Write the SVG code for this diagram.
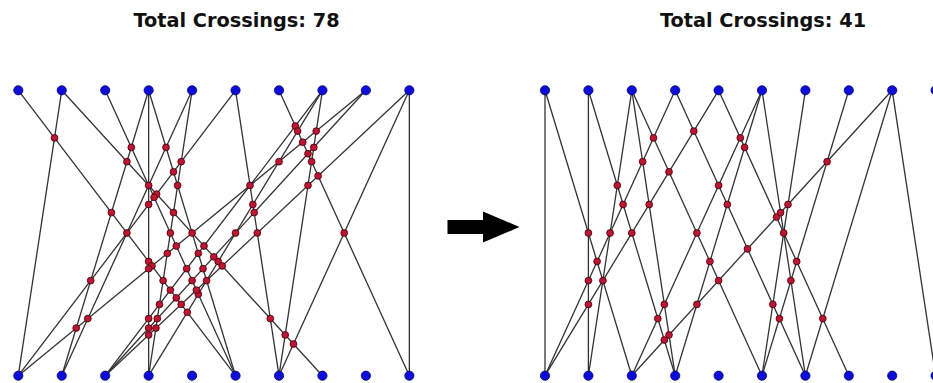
<svg xmlns="http://www.w3.org/2000/svg" width="933" height="383" viewBox="0 0 933 383">
<style>
.title{font-family:"DejaVu Sans","Liberation Sans",sans-serif;font-weight:bold;font-size:19.3px;fill:#111;text-anchor:middle}
.e{stroke:#333;stroke-width:1.3;fill:none}
.x{fill:#c41230;stroke:#3a0008;stroke-width:0.8}
.n{fill:#0c0ce0;stroke:#00007a;stroke-width:0.8}
</style>
<rect width="933" height="383" fill="#fff"/>
<text class="title" x="236.5" y="27">Total Crossings: 78</text>
<text class="title" x="763" y="27">Total Crossings: 41</text>
<polygon id="arrow" points="447.5,220 483,220 483,211.5 519.5,227 483,242.5 483,234 447.5,234" fill="#000"/>
<g id="connectors-left" class="e">
<line x1="18.3" y1="90.3" x2="235.55" y2="375.7"/>
<line x1="61.75" y1="90.3" x2="18.3" y2="375.7"/>
<line x1="61.75" y1="90.3" x2="322.45" y2="375.7"/>
<line x1="105.2" y1="90.3" x2="235.55" y2="375.7"/>
<line x1="148.65" y1="90.3" x2="61.75" y2="375.7"/>
<line x1="148.65" y1="90.3" x2="148.65" y2="375.7"/>
<line x1="148.65" y1="90.3" x2="235.55" y2="375.7"/>
<line x1="192.1" y1="90.3" x2="61.75" y2="375.7"/>
<line x1="192.1" y1="90.3" x2="148.65" y2="375.7"/>
<line x1="235.55" y1="90.3" x2="18.3" y2="375.7"/>
<line x1="235.55" y1="90.3" x2="279" y2="375.7"/>
<line x1="279" y1="90.3" x2="409.35" y2="375.7"/>
<line x1="322.45" y1="90.3" x2="105.2" y2="375.7"/>
<line x1="322.45" y1="90.3" x2="148.65" y2="375.7"/>
<line x1="322.45" y1="90.3" x2="279" y2="375.7"/>
<line x1="365.9" y1="90.3" x2="18.3" y2="375.7"/>
<line x1="365.9" y1="90.3" x2="105.2" y2="375.7"/>
<line x1="409.35" y1="90.3" x2="105.2" y2="375.7"/>
<line x1="409.35" y1="90.3" x2="279" y2="375.7"/>
<line x1="409.35" y1="90.3" x2="409.35" y2="375.7"/>
</g>
<g id="connectors-right" class="e">
<line x1="545" y1="90.3" x2="545" y2="375.7"/>
<line x1="545" y1="90.3" x2="631.8" y2="375.7"/>
<line x1="588.4" y1="90.3" x2="588.4" y2="375.7"/>
<line x1="588.4" y1="90.3" x2="675.2" y2="375.7"/>
<line x1="631.8" y1="90.3" x2="588.4" y2="375.7"/>
<line x1="631.8" y1="90.3" x2="675.2" y2="375.7"/>
<line x1="631.8" y1="90.3" x2="762" y2="375.7"/>
<line x1="675.2" y1="90.3" x2="545" y2="375.7"/>
<line x1="675.2" y1="90.3" x2="805.4" y2="375.7"/>
<line x1="718.6" y1="90.3" x2="545" y2="375.7"/>
<line x1="718.6" y1="90.3" x2="848.8" y2="375.7"/>
<line x1="762" y1="90.3" x2="631.8" y2="375.7"/>
<line x1="762" y1="90.3" x2="675.2" y2="375.7"/>
<line x1="762" y1="90.3" x2="805.4" y2="375.7"/>
<line x1="805.4" y1="90.3" x2="762" y2="375.7"/>
<line x1="848.8" y1="90.3" x2="762" y2="375.7"/>
<line x1="892.2" y1="90.3" x2="631.8" y2="375.7"/>
<line x1="892.2" y1="90.3" x2="805.4" y2="375.7"/>
<line x1="892.2" y1="90.3" x2="935.6" y2="375.7"/>
<line x1="935.6" y1="90.3" x2="935.6" y2="375.7"/>
</g>
<g id="crossings-left" class="x">
<circle cx="54.5" cy="137.9" r="3.4"/>
<circle cx="111.4" cy="212.6" r="3.4"/>
<circle cx="148.65" cy="261.5" r="3.4"/>
<circle cx="126.9" cy="233" r="3.4"/>
<circle cx="163.1" cy="280.6" r="3.4"/>
<circle cx="170.4" cy="290.1" r="3.4"/>
<circle cx="187.3" cy="312.3" r="3.4"/>
<circle cx="152" cy="265.9" r="3.4"/>
<circle cx="176.3" cy="297.9" r="3.4"/>
<circle cx="181.2" cy="304.4" r="3.4"/>
<circle cx="148.65" cy="185.4" r="3.4"/>
<circle cx="126.9" cy="161.65" r="3.4"/>
<circle cx="192.1" cy="233" r="3.4"/>
<circle cx="173.5" cy="212.6" r="3.4"/>
<circle cx="156.6" cy="194.1" r="3.4"/>
<circle cx="270.3" cy="318.6" r="3.4"/>
<circle cx="204" cy="246" r="3.4"/>
<circle cx="218.2" cy="261.5" r="3.4"/>
<circle cx="285.2" cy="334.9" r="3.4"/>
<circle cx="213.8" cy="256.8" r="3.4"/>
<circle cx="222.2" cy="265.9" r="3.4"/>
<circle cx="293.5" cy="344" r="3.4"/>
<circle cx="131.3" cy="147.4" r="3.4"/>
<circle cx="170.4" cy="233" r="3.4"/>
<circle cx="154.1" cy="197.3" r="3.4"/>
<circle cx="186.7" cy="268.7" r="3.4"/>
<circle cx="198.3" cy="294.2" r="3.4"/>
<circle cx="176.3" cy="246" r="3.4"/>
<circle cx="192.1" cy="280.6" r="3.4"/>
<circle cx="196.4" cy="290.1" r="3.4"/>
<circle cx="90.7" cy="280.6" r="3.4"/>
<circle cx="76.2" cy="328.1" r="3.4"/>
<circle cx="148.65" cy="204.5" r="3.4"/>
<circle cx="148.65" cy="318.6" r="3.4"/>
<circle cx="148.65" cy="268.7" r="3.4"/>
<circle cx="148.65" cy="328.1" r="3.4"/>
<circle cx="148.65" cy="334.9" r="3.4"/>
<circle cx="166" cy="147.4" r="3.4"/>
<circle cx="177.6" cy="185.4" r="3.4"/>
<circle cx="173.5" cy="171.8" r="3.4"/>
<circle cx="198.3" cy="253.4" r="3.4"/>
<circle cx="206.6" cy="280.6" r="3.4"/>
<circle cx="203" cy="268.7" r="3.4"/>
<circle cx="87.8" cy="318.6" r="3.4"/>
<circle cx="181.2" cy="161.65" r="3.4"/>
<circle cx="159.5" cy="304.4" r="3.4"/>
<circle cx="167.3" cy="253.4" r="3.4"/>
<circle cx="157.3" cy="318.6" r="3.4"/>
<circle cx="155.9" cy="328.1" r="3.4"/>
<circle cx="250" cy="185.4" r="3.4"/>
<circle cx="252.9" cy="204.5" r="3.4"/>
<circle cx="254.2" cy="212.6" r="3.4"/>
<circle cx="257.3" cy="233" r="3.4"/>
<circle cx="295.3" cy="126" r="3.4"/>
<circle cx="297.6" cy="131.1" r="3.4"/>
<circle cx="311.6" cy="161.65" r="3.4"/>
<circle cx="302.7" cy="142.2" r="3.4"/>
<circle cx="308" cy="153.7" r="3.4"/>
<circle cx="318.1" cy="175.9" r="3.4"/>
<circle cx="344.2" cy="233" r="3.4"/>
<circle cx="279" cy="161.65" r="3.4"/>
<circle cx="235.55" cy="233" r="3.4"/>
<circle cx="316.2" cy="131.1" r="3.4"/>
<circle cx="313.8" cy="147.4" r="3.4"/>
<circle cx="308" cy="185.4" r="3.4"/>
</g>
<g id="crossings-right" class="x">
<circle cx="588.4" cy="233" r="3.4"/>
<circle cx="602.9" cy="280.6" r="3.4"/>
<circle cx="597.1" cy="261.5" r="3.4"/>
<circle cx="588.4" cy="280.6" r="3.4"/>
<circle cx="588.4" cy="304.4" r="3.4"/>
<circle cx="617.3" cy="185.4" r="3.4"/>
<circle cx="623.1" cy="204.5" r="3.4"/>
<circle cx="631.8" cy="233" r="3.4"/>
<circle cx="657.8" cy="318.6" r="3.4"/>
<circle cx="664.35" cy="340" r="3.4"/>
<circle cx="610.1" cy="233" r="3.4"/>
<circle cx="642.65" cy="161.65" r="3.4"/>
<circle cx="649.2" cy="204.5" r="3.4"/>
<circle cx="664.35" cy="304.4" r="3.4"/>
<circle cx="669" cy="334.9" r="3.4"/>
<circle cx="653.5" cy="137.9" r="3.4"/>
<circle cx="669" cy="171.8" r="3.4"/>
<circle cx="696.9" cy="233" r="3.4"/>
<circle cx="709.9" cy="261.5" r="3.4"/>
<circle cx="718.6" cy="280.6" r="3.4"/>
<circle cx="693.8" cy="131.1" r="3.4"/>
<circle cx="718.6" cy="185.4" r="3.4"/>
<circle cx="727.3" cy="204.5" r="3.4"/>
<circle cx="772.85" cy="304.4" r="3.4"/>
<circle cx="779.4" cy="318.6" r="3.4"/>
<circle cx="747.5" cy="248.9" r="3.4"/>
<circle cx="740.3" cy="137.9" r="3.4"/>
<circle cx="744.6" cy="147.4" r="3.4"/>
<circle cx="783.7" cy="233" r="3.4"/>
<circle cx="796.7" cy="261.5" r="3.4"/>
<circle cx="776.5" cy="217.1" r="3.4"/>
<circle cx="822.8" cy="318.6" r="3.4"/>
<circle cx="696.9" cy="304.4" r="3.4"/>
<circle cx="790.9" cy="280.6" r="3.4"/>
<circle cx="780.6" cy="212.6" r="3.4"/>
<circle cx="788" cy="204.5" r="3.4"/>
<circle cx="827.1" cy="161.65" r="3.4"/>
</g>
<g class="n">
<g id="L-top-0"><circle cx="18.3" cy="90.3" r="4.6"/></g>
<g id="L-top-1"><circle cx="61.75" cy="90.3" r="4.6"/></g>
<g id="L-top-2"><circle cx="105.2" cy="90.3" r="4.6"/></g>
<g id="L-top-3"><circle cx="148.65" cy="90.3" r="4.6"/></g>
<g id="L-top-4"><circle cx="192.1" cy="90.3" r="4.6"/></g>
<g id="L-top-5"><circle cx="235.55" cy="90.3" r="4.6"/></g>
<g id="L-top-6"><circle cx="279" cy="90.3" r="4.6"/></g>
<g id="L-top-7"><circle cx="322.45" cy="90.3" r="4.6"/></g>
<g id="L-top-8"><circle cx="365.9" cy="90.3" r="4.6"/></g>
<g id="L-top-9"><circle cx="409.35" cy="90.3" r="4.6"/></g>
<g id="L-bot-0"><circle cx="18.3" cy="375.7" r="4.6"/></g>
<g id="L-bot-1"><circle cx="61.75" cy="375.7" r="4.6"/></g>
<g id="L-bot-2"><circle cx="105.2" cy="375.7" r="4.6"/></g>
<g id="L-bot-3"><circle cx="148.65" cy="375.7" r="4.6"/></g>
<g id="L-bot-4"><circle cx="192.1" cy="375.7" r="4.6"/></g>
<g id="L-bot-5"><circle cx="235.55" cy="375.7" r="4.6"/></g>
<g id="L-bot-6"><circle cx="279" cy="375.7" r="4.6"/></g>
<g id="L-bot-7"><circle cx="322.45" cy="375.7" r="4.6"/></g>
<g id="L-bot-8"><circle cx="365.9" cy="375.7" r="4.6"/></g>
<g id="L-bot-9"><circle cx="409.35" cy="375.7" r="4.6"/></g>
<g id="R-top-0"><circle cx="545" cy="90.3" r="4.6"/></g>
<g id="R-top-1"><circle cx="588.4" cy="90.3" r="4.6"/></g>
<g id="R-top-2"><circle cx="631.8" cy="90.3" r="4.6"/></g>
<g id="R-top-3"><circle cx="675.2" cy="90.3" r="4.6"/></g>
<g id="R-top-4"><circle cx="718.6" cy="90.3" r="4.6"/></g>
<g id="R-top-5"><circle cx="762" cy="90.3" r="4.6"/></g>
<g id="R-top-6"><circle cx="805.4" cy="90.3" r="4.6"/></g>
<g id="R-top-7"><circle cx="848.8" cy="90.3" r="4.6"/></g>
<g id="R-top-8"><circle cx="892.2" cy="90.3" r="4.6"/></g>
<g id="R-top-9"><circle cx="935.6" cy="90.3" r="4.6"/></g>
<g id="R-bot-0"><circle cx="545" cy="375.7" r="4.6"/></g>
<g id="R-bot-1"><circle cx="588.4" cy="375.7" r="4.6"/></g>
<g id="R-bot-2"><circle cx="631.8" cy="375.7" r="4.6"/></g>
<g id="R-bot-3"><circle cx="675.2" cy="375.7" r="4.6"/></g>
<g id="R-bot-4"><circle cx="718.6" cy="375.7" r="4.6"/></g>
<g id="R-bot-5"><circle cx="762" cy="375.7" r="4.6"/></g>
<g id="R-bot-6"><circle cx="805.4" cy="375.7" r="4.6"/></g>
<g id="R-bot-7"><circle cx="848.8" cy="375.7" r="4.6"/></g>
<g id="R-bot-8"><circle cx="892.2" cy="375.7" r="4.6"/></g>
<g id="R-bot-9"><circle cx="935.6" cy="375.7" r="4.6"/></g>
</g>
</svg>
